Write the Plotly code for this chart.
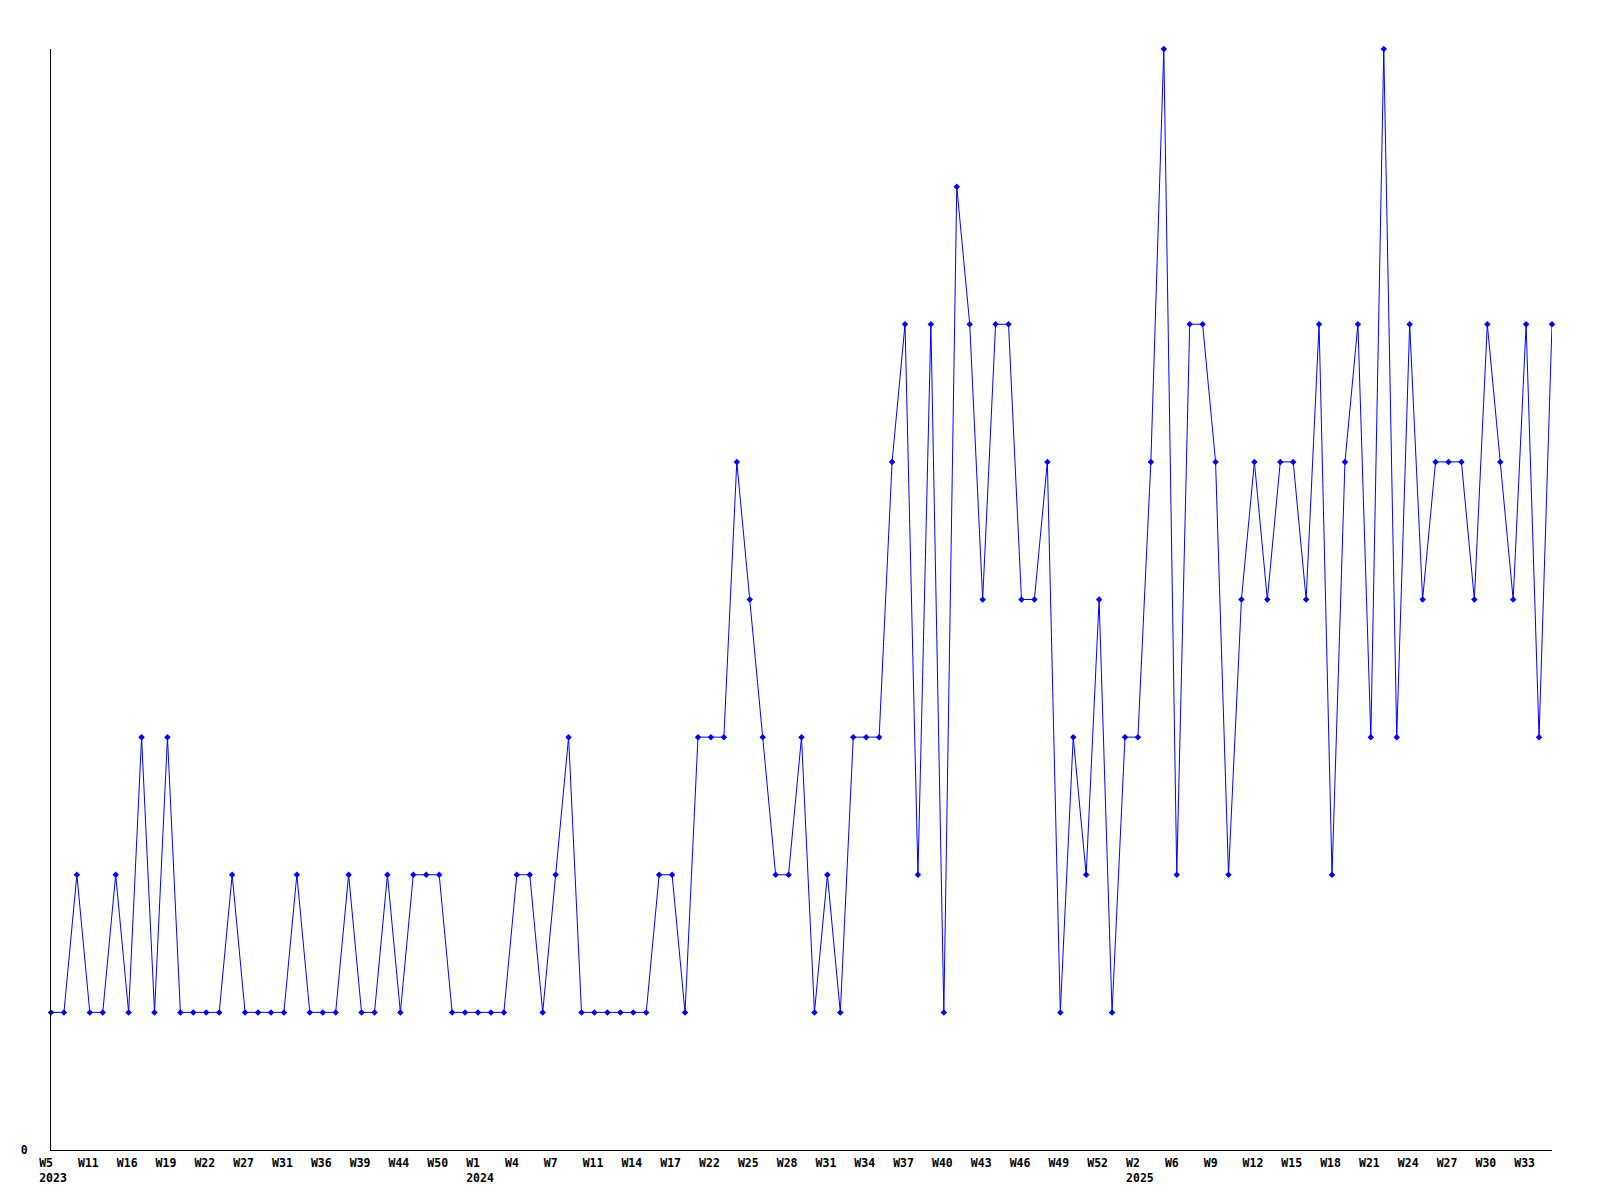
import plotly.graph_objects as go

# Weekly values (one point per reported week)
values = [
    1, 1, 2, 1, 1, 2, 1, 3, 1, 3,
    1, 1, 1, 1, 2, 1, 1, 1, 1, 2,
    1, 1, 1, 2, 1, 1, 2, 1, 2, 2,
    2, 1, 1, 1, 1, 1, 2, 2, 1, 2,
    3, 1, 1, 1, 1, 1, 1, 2, 2, 1,
    3, 3, 3, 5, 4, 3, 2, 2, 3, 1,
    2, 1, 3, 3, 3, 5, 6, 2, 6, 1,
    7, 6, 4, 6, 6, 4, 4, 5, 1, 3,
    2, 4, 1, 3, 3, 5, 8, 2, 6, 6,
    5, 2, 4, 5, 4, 5, 5, 4, 6, 2,
    5, 6, 3, 8, 3, 6, 4, 5, 5, 5,
    4, 6, 5, 4, 6, 3, 6,
]

# Tick labels (every third point)
tick_weeks = [
    "W5", "W11", "W16", "W19", "W22", "W27", "W31", "W36", "W39", "W44", "W50",
    "W1", "W4", "W7", "W11", "W14", "W17", "W22", "W25", "W28", "W31", "W34",
    "W37", "W40", "W43", "W46", "W49", "W52",
    "W2", "W6", "W9", "W12", "W15", "W18", "W21", "W24", "W27", "W30", "W33",
]
tick_years = {0: "2023", 11: "2024", 28: "2025"}

x = list(range(len(values)))
tickvals = list(range(0, len(values), 3))[: len(tick_weeks)]

NB = "\u00a0"
ticktext = []
for i, w in enumerate(tick_weeks):
    top = w + NB * (4 - len(w))
    if i in tick_years:
        ticktext.append(top + "<br>" + tick_years[i])
    else:
        ticktext.append(top)

fig = go.Figure()
fig.add_trace(go.Scatter(
    x=x, y=values, mode="lines+markers",
    line=dict(color="#0000ff", width=1),
    marker=dict(symbol="diamond", size=5, color="#0000ff"),
    cliponaxis=False,
    showlegend=False,
))

font = dict(family="DejaVu Sans Mono", size=11.5, color="#000000", weight="bold")

fig.update_layout(
    width=1584, height=1184,
    margin=dict(l=43, r=40, t=41, b=42),
    paper_bgcolor="white", plot_bgcolor="white",
    showlegend=False,
)
fig.update_xaxes(
    range=[0, len(values) - 1], automargin=False,
    tickmode="array", tickvals=tickvals, ticktext=ticktext,
    showgrid=False, zeroline=False,
    showline=True, linecolor="black", linewidth=1,
    ticks="", tickfont=font, ticklabelshift=2, ticklabelstandoff=2,
)
fig.update_yaxes(
    range=[0, 8], automargin=False,
    tickmode="array", tickvals=[0], ticktext=["0"],
    showgrid=False, zeroline=False,
    showline=True, linecolor="black", linewidth=1,
    ticks="", tickfont=font, ticklabelstandoff=20,
)

fig.write_html("out.html")
